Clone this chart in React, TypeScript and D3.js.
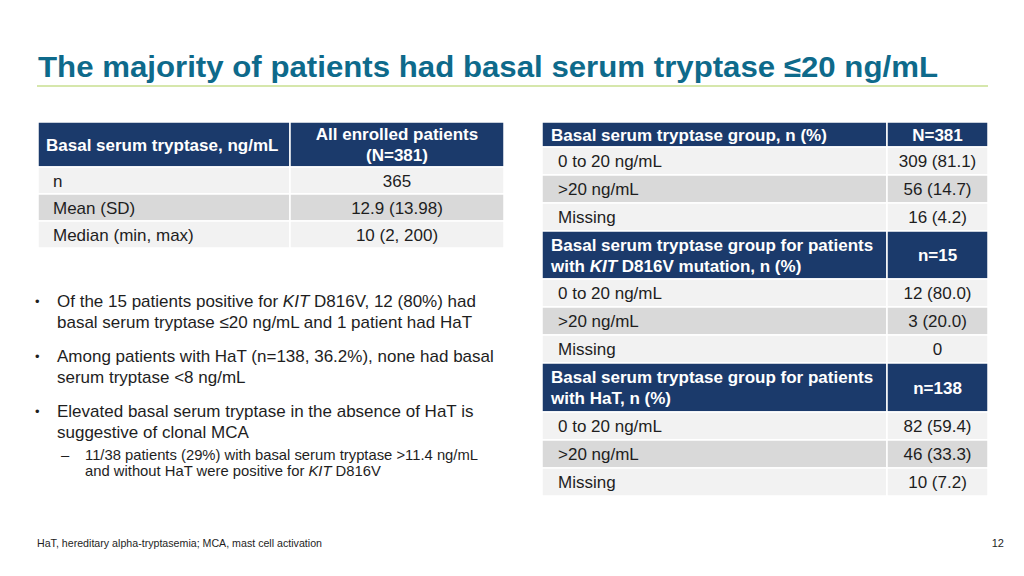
import React from "react";
import * as d3 from "d3";

const title = "The majority of patients had basal serum tryptase \u226420 ng/mL";

// Left table
const leftHeader = ["Basal serum tryptase, ng/mL", "All enrolled patients", "(N=381)"];
const leftLabels = ["n", "Mean (SD)", "Median (min, max)"];
const leftValues = ["365", "12.9 (13.98)", "10 (2, 200)"];

// Right table sections
const groupTitles = [
  [["Basal serum tryptase group, n (%)"]],
  [["Basal serum tryptase group for patients"], ["with ", "KIT", " D816V mutation, n (%)"]],
  [["Basal serum tryptase group for patients"], ["with HaT, n (%)"]],
];
const groupNs = ["N=381", "n=15", "n=138"];
const groupLabels = ["0 to 20 ng/mL", ">20 ng/mL", "Missing"];
const allValues = ["309 (81.1)", "56 (14.7)", "16 (4.2)"];
const kitValues = ["12 (80.0)", "3 (20.0)", "0"];
const hatValues = ["82 (59.4)", "46 (33.3)", "10 (7.2)"];
const groupValues = [allValues, kitValues, hatValues];

const footnote = "HaT, hereditary alpha-tryptasemia; MCA, mast cell activation";
const pageNumber = "12";

const NAVY = "#1b3a6b";
const LIGHT = "#f2f2f2";
const DARK = "#d9d9d9";
const TEXT = "#1e1e1e";
const FONT = "'Liberation Sans', Arial, Helvetica, sans-serif";

export default function App() {
  // left table geometry
  const lx = [38, 290, 504];
  const lTop = 122;
  const lHeadH = 45;
  const lRowH = 27;
  const lRowY = d3.range(leftLabels.length).map((i) => lTop + lHeadH + i * lRowH);

  // right table geometry
  const rx = [542, 887, 988];
  const headHs = [25, 48, 49];
  const rRowH = 28;
  const sectionH = headHs.map((h) => h + rRowH * groupLabels.length);
  const sectionTops = [122, ...Array.from(d3.cumsum(sectionH)).map((c) => 122 + c)].slice(0, 3);

  const cellStroke = { stroke: "#ffffff", strokeWidth: 1.5 };

  return (
    <svg
      width={1024}
      height={576}
      style={{ position: "absolute", left: 0, top: 0, background: "#fff" }}
      fontFamily={FONT}
    >
      <rect x={0} y={0} width={1024} height={576} fill="#fff" />
      {/* Title */}
      <text x={38} y={77} fontSize={30} fontWeight="bold" fill="#0e6a8b" textLength={900} lengthAdjust="spacingAndGlyphs">
        {title}
      </text>
      <line x1={37} x2={988} y1={86} y2={86} stroke="#c9df90" strokeWidth={1.5} />

      {/* Left table */}
      <g>
        <rect x={lx[0]} y={lTop} width={lx[1] - lx[0]} height={lHeadH} fill={NAVY} {...cellStroke} />
        <rect x={lx[1]} y={lTop} width={lx[2] - lx[1]} height={lHeadH} fill={NAVY} {...cellStroke} />
        <text x={46} y={lTop + lHeadH / 2 + 6} fontSize={17} fontWeight="bold" fill="#fff">
          {leftHeader[0]}
        </text>
        <text x={(lx[1] + lx[2]) / 2} y={lTop + lHeadH / 2 - 4.5} fontSize={17} fontWeight="bold" fill="#fff" textAnchor="middle">
          {leftHeader[1]}
        </text>
        <text x={(lx[1] + lx[2]) / 2} y={lTop + lHeadH / 2 + 16} fontSize={17} fontWeight="bold" fill="#fff" textAnchor="middle">
          {leftHeader[2]}
        </text>
        {leftLabels.map((lab, i) => {
          const y = lRowY[i];
          const fill = i % 2 === 0 ? LIGHT : DARK;
          return (
            <g key={lab}>
              <rect x={lx[0]} y={y} width={lx[1] - lx[0]} height={lRowH} fill={fill} {...cellStroke} />
              <rect x={lx[1]} y={y} width={lx[2] - lx[1]} height={lRowH} fill={fill} {...cellStroke} />
              <text x={53} y={y + lRowH / 2 + 6} fontSize={17} fill={TEXT}>
                {lab}
              </text>
              <text x={(lx[1] + lx[2]) / 2} y={y + lRowH / 2 + 6} fontSize={17} fill={TEXT} textAnchor="middle">
                {leftValues[i]}
              </text>
            </g>
          );
        })}
      </g>

      {/* Right table */}
      <g>
        {groupTitles.map((lines, s) => {
          const top = sectionTops[s];
          const hh = headHs[s];
          const nLines = lines.length;
          return (
            <g key={s}>
              <rect x={rx[0]} y={top} width={rx[1] - rx[0]} height={hh} fill={NAVY} {...cellStroke} />
              <rect x={rx[1]} y={top} width={rx[2] - rx[1]} height={hh} fill={NAVY} {...cellStroke} />
              {lines.map((parts, li) => (
                <text
                  key={li}
                  x={551}
                  y={top + hh / 2 + 6 + (li - (nLines - 1) / 2) * 21}
                  fontSize={17}
                  fontWeight="bold"
                  fill="#fff"
                >
                  {parts.map((p, pi) => (
                    <tspan key={pi} fontStyle={p === "KIT" ? "italic" : "normal"}>
                      {p}
                    </tspan>
                  ))}
                </text>
              ))}
              <text x={(rx[1] + rx[2]) / 2} y={top + hh / 2 + 6} fontSize={17} fontWeight="bold" fill="#fff" textAnchor="middle">
                {groupNs[s]}
              </text>
              {groupLabels.map((lab, i) => {
                const y = top + hh + i * rRowH;
                const fill = i % 2 === 0 ? LIGHT : DARK;
                return (
                  <g key={lab}>
                    <rect x={rx[0]} y={y} width={rx[1] - rx[0]} height={rRowH} fill={fill} {...cellStroke} />
                    <rect x={rx[1]} y={y} width={rx[2] - rx[1]} height={rRowH} fill={fill} {...cellStroke} />
                    <text x={558} y={y + rRowH / 2 + 6} fontSize={17} fill={TEXT}>
                      {lab}
                    </text>
                    <text x={(rx[1] + rx[2]) / 2} y={y + rRowH / 2 + 6} fontSize={17} fill={TEXT} textAnchor="middle">
                      {groupValues[s][i]}
                    </text>
                  </g>
                );
              })}
            </g>
          );
        })}
      </g>

      {/* Bullets */}
      <g fill={TEXT} fontSize={17}>
        <text x={35} y={306} fontSize={13}>•</text>
        <text x={57} y={307}>
          Of the 15 patients positive for <tspan fontStyle="italic">KIT</tspan> D816V, 12 (80%) had
        </text>
        <text x={57} y={328}>basal serum tryptase ≤20 ng/mL and 1 patient had HaT</text>

        <text x={35} y={361} fontSize={13}>•</text>
        <text x={57} y={362}>Among patients with HaT (n=138, 36.2%), none had basal</text>
        <text x={57} y={383}>serum tryptase &lt;8 ng/mL</text>

        <text x={35} y={416} fontSize={13}>•</text>
        <text x={57} y={417}>Elevated basal serum tryptase in the absence of HaT is</text>
        <text x={57} y={438}>suggestive of clonal MCA</text>
      </g>
      <g fill={TEXT} fontSize={14.8}>
        <text x={61} y={460}>–</text>
        <text x={85} y={460}>11/38 patients (29%) with basal serum tryptase &gt;11.4 ng/mL</text>
        <text x={85} y={476}>
          and without HaT were positive for <tspan fontStyle="italic">KIT</tspan> D816V
        </text>
      </g>

      {/* Footer */}
      <text x={37} y={547} fontSize={11} fill={TEXT} textLength={285} lengthAdjust="spacingAndGlyphs">
        {footnote}
      </text>
      <text x={1004} y={547} fontSize={11} fill={TEXT} textAnchor="end">
        {pageNumber}
      </text>
    </svg>
  );
}
